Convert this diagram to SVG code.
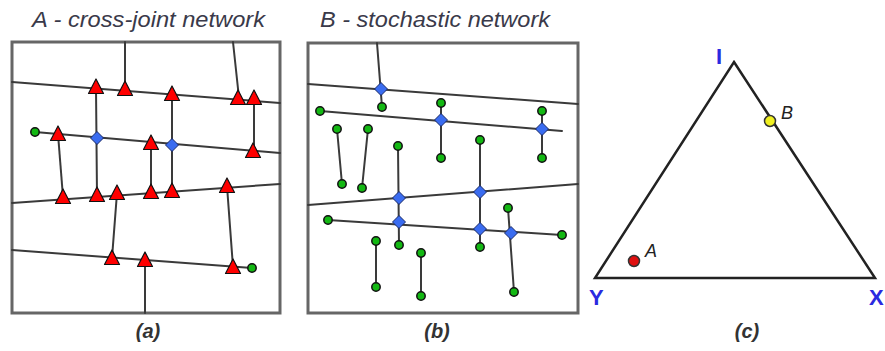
<svg xmlns="http://www.w3.org/2000/svg" width="885" height="351" viewBox="0 0 885 351">
<style>
.box{fill:#fff;stroke:#666;stroke-width:3}
.ln{stroke:#3a3a3a;stroke-width:2;fill:none;stroke-linecap:round}
.tri{fill:#ff0000;stroke:#111;stroke-width:1.2;stroke-linejoin:round}
.dia{fill:#3a6cf0;stroke:#1a2a66;stroke-width:1}
.gr{fill:#13b813;stroke:#111;stroke-width:1.5}
.title{font-family:"Liberation Sans",Arial,sans-serif;font-style:italic;font-size:22px;fill:#3a3a4a}
.cap{font-family:"Liberation Sans",Arial,sans-serif;font-style:italic;font-weight:bold;font-size:20px;fill:#333;text-anchor:middle}
.ax{font-family:"Liberation Sans",Arial,sans-serif;font-weight:bold;font-size:22px;fill:#2a2ae0}
.pl{font-family:"Liberation Sans",Arial,sans-serif;font-style:italic;font-size:18px;fill:#222}
</style>
<defs>
<path id="t" class="tri" d="M0,-9 L7.5,5.5 L-7.5,5.5 Z"/>
<path id="d" class="dia" d="M0,-6.5 L6.5,0 L0,6.5 L-6.5,0 Z"/>
<circle id="g" class="gr" r="4.2"/>
</defs>
<rect width="885" height="351" fill="#fff"/>

<!-- Panel A -->
<g id="panelA">
<text class="title" x="32" y="27" textLength="233" lengthAdjust="spacingAndGlyphs">A - cross-joint network</text>
<rect class="box" x="12" y="42" width="268" height="271"/>
<g id="connectorsA">
<line class="ln" x1="12" y1="82" x2="280" y2="103"/>
<line class="ln" x1="125" y1="42" x2="125" y2="90"/>
<line class="ln" x1="233" y1="42" x2="239" y2="98"/>
<line class="ln" x1="35" y1="132" x2="280" y2="153"/>
<line class="ln" x1="96" y1="88" x2="97" y2="196"/>
<line class="ln" x1="172" y1="94" x2="172" y2="192"/>
<line class="ln" x1="254" y1="98" x2="254" y2="152"/>
<line class="ln" x1="151" y1="143" x2="151" y2="192"/>
<line class="ln" x1="58" y1="134" x2="63" y2="197"/>
<line class="ln" x1="12" y1="203" x2="280" y2="184"/>
<line class="ln" x1="117" y1="193" x2="112" y2="258"/>
<line class="ln" x1="227" y1="186" x2="233" y2="267"/>
<line class="ln" x1="12" y1="250" x2="252" y2="268"/>
<line class="ln" x1="145" y1="260" x2="145" y2="313"/>
</g>
<g id="nodesA">
<use href="#t" x="96" y="88"/>
<use href="#t" x="125" y="90"/>
<use href="#t" x="172" y="95"/>
<use href="#t" x="238" y="99"/>
<use href="#t" x="254" y="99"/>
<use href="#g" x="35" y="132"/>
<use href="#t" x="58" y="135"/>
<use href="#d" x="97" y="138"/>
<use href="#t" x="151" y="144"/>
<use href="#d" x="172" y="145"/>
<use href="#t" x="253" y="152"/>
<use href="#t" x="63" y="198"/>
<use href="#t" x="97" y="196"/>
<use href="#t" x="117" y="194"/>
<use href="#t" x="151" y="193"/>
<use href="#t" x="172" y="192"/>
<use href="#t" x="227" y="187"/>
<use href="#t" x="112" y="259"/>
<use href="#t" x="145" y="261"/>
<use href="#t" x="233" y="268"/>
<use href="#g" x="252" y="268"/>
</g>
<text class="cap" x="148" y="338">(a)</text>
</g>

<!-- Panel B -->
<g id="panelB">
<text class="title" x="320" y="27" textLength="230" lengthAdjust="spacingAndGlyphs">B - stochastic network</text>
<rect class="box" x="308" y="43" width="270" height="270"/>
<g id="connectorsB">
<line class="ln" x1="308" y1="84" x2="578" y2="104"/>
<line class="ln" x1="377" y1="43" x2="382" y2="107"/>
<line class="ln" x1="320" y1="111" x2="562" y2="131"/>
<line class="ln" x1="441" y1="103" x2="441" y2="158"/>
<line class="ln" x1="542" y1="111" x2="542" y2="158"/>
<line class="ln" x1="337" y1="129" x2="342" y2="184"/>
<line class="ln" x1="368" y1="129" x2="362" y2="188"/>
<line class="ln" x1="398" y1="146" x2="399" y2="245"/>
<line class="ln" x1="480" y1="140" x2="480" y2="247"/>
<line class="ln" x1="308" y1="205" x2="578" y2="184"/>
<line class="ln" x1="328" y1="220" x2="562" y2="235"/>
<line class="ln" x1="508" y1="208" x2="514" y2="292"/>
<line class="ln" x1="376" y1="241" x2="376" y2="287"/>
<line class="ln" x1="421" y1="253" x2="421" y2="296"/>
</g>
<g id="nodesB">
<use href="#d" x="381" y="89"/>
<use href="#g" x="382" y="107"/>
<use href="#g" x="320" y="111"/>
<use href="#g" x="441" y="103"/>
<use href="#d" x="441" y="120"/>
<use href="#g" x="441" y="158"/>
<use href="#g" x="542" y="111"/>
<use href="#d" x="542" y="129"/>
<use href="#g" x="542" y="158"/>
<use href="#g" x="337" y="129"/>
<use href="#g" x="342" y="184"/>
<use href="#g" x="368" y="129"/>
<use href="#g" x="362" y="188"/>
<use href="#g" x="398" y="146"/>
<use href="#g" x="480" y="140"/>
<use href="#d" x="399" y="198"/>
<use href="#d" x="480" y="192"/>
<use href="#g" x="328" y="220"/>
<use href="#d" x="399" y="222"/>
<use href="#d" x="480" y="229"/>
<use href="#d" x="511" y="233"/>
<use href="#g" x="562" y="235"/>
<use href="#g" x="508" y="208"/>
<use href="#g" x="399" y="245"/>
<use href="#g" x="480" y="247"/>
<use href="#g" x="514" y="292"/>
<use href="#g" x="376" y="241"/>
<use href="#g" x="376" y="287"/>
<use href="#g" x="421" y="253"/>
<use href="#g" x="421" y="296"/>
</g>
<text class="cap" x="437" y="338">(b)</text>
</g>

<!-- Panel C -->
<g id="panelC">
<polygon points="734,62 875,278 595,278" fill="none" stroke="#222" stroke-width="2.5" stroke-linejoin="miter"/>
<text class="ax" x="716" y="64">I</text>
<text class="ax" x="589" y="305">Y</text>
<text class="ax" x="869" y="305">X</text>
<g id="pointB">
<circle cx="770" cy="121" r="5.5" fill="#f0f020" stroke="#333" stroke-width="1.5"/>
<text class="pl" x="781" y="119">B</text>
</g>
<g id="pointA">
<circle cx="634" cy="261" r="5.5" fill="#e01010" stroke="#333" stroke-width="1.5"/>
<text class="pl" x="645" y="257">A</text>
</g>
<text class="cap" x="747" y="338">(c)</text>
</g>
</svg>
